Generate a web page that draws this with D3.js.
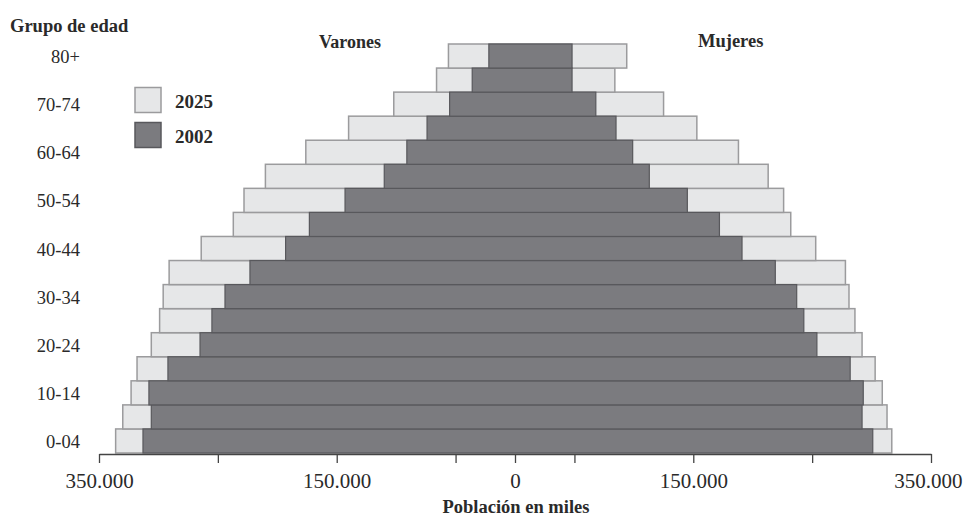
<!DOCTYPE html>
<html>
<head>
<meta charset="utf-8">
<script src="https://cdn.jsdelivr.net/npm/d3@7"></script>
<style>
  html, body { margin: 0; padding: 0; background: #fff; }
  svg { display: block; }
  text { font-family: "Liberation Serif", "DejaVu Serif", "Times New Roman", serif; fill: #2a2a2a; }
</style>
</head>
<body>
<svg id="chart" width="964" height="518"></svg>
<script>
// Age groups, bottom to top
const ages = ["0-04","5-09","10-14","15-19","20-24","25-29","30-34","35-39","40-44",
              "45-49","50-54","55-59","60-64","65-69","70-74","75-79","80+"];
const ageLabels = ["0-04","10-14","20-24","30-34","40-44","50-54","60-64","70-74","80+"];
// Population in thousands
const male2025   = [336, 330, 323, 318, 306, 299, 296, 291, 264, 237, 228, 210, 176, 140, 102, 66, 56];
const female2025 = [317, 313, 309, 303, 292, 286, 281, 278, 253, 232, 226, 213, 188, 153, 125, 84, 94];
const male2002   = [313, 306, 308, 292, 265, 255, 244, 223, 193, 173, 143, 110, 91, 74, 55, 36, 22];
const female2002 = [301, 292, 293, 282, 254, 243, 237, 219, 191, 172, 145, 113, 99, 85, 68, 48, 48];
const tickValues = [-350, -250, -150, -50, 0, 50, 150, 250, 350];
const tickLabels = {"-350": "350.000", "-150": "150.000", "0": "0", "150": "150.000", "350": "350.000"};
const years = ["2025", "2002"];

const LIGHT = "#e6e7e8", LIGHT_STROKE = "#9b9b9d";
const DARK = "#7b7b7f", DARK_STROKE = "#58585c";

const svg = d3.select("#chart");
const x = d3.scaleLinear().domain([-350, 350]).range([99, 931]);
const y = d3.scaleBand().domain(ages).range([453, 44]).padding(0);

const rows2025 = ages.map((a, i) => ({age: a, m: male2025[i], f: female2025[i]}));
const rows2002 = ages.map((a, i) => ({age: a, m: male2002[i], f: female2002[i]}));

svg.append("g").selectAll("rect").data(rows2025).join("rect")
  .attr("x", d => x(-d.m)).attr("width", d => x(d.f) - x(-d.m))
  .attr("y", d => y(d.age)).attr("height", y.bandwidth())
  .attr("fill", LIGHT).attr("stroke", LIGHT_STROKE).attr("stroke-width", 1.5);

svg.append("g").selectAll("rect").data(rows2002).join("rect")
  .attr("x", d => x(-d.m)).attr("width", d => x(d.f) - x(-d.m))
  .attr("y", d => y(d.age)).attr("height", y.bandwidth())
  .attr("fill", DARK).attr("stroke", DARK_STROKE).attr("stroke-width", 1.2);

// X axis
const axis = d3.axisBottom(x).tickValues(tickValues).tickSize(9).tickSizeOuter(0)
  .tickFormat(d => tickLabels[String(d)] || "");
const gx = svg.append("g").attr("transform", "translate(0,454)").call(axis);
gx.select(".domain").attr("stroke", "#444").attr("stroke-width", 1.3);
gx.selectAll(".tick line").attr("stroke", "#444").attr("stroke-width", 1.3);
gx.selectAll(".tick text").attr("y", 34).attr("dy", 0)
  .style("font-family", '"Liberation Serif", "DejaVu Serif", serif')
  .style("font-size", "21px").attr("fill", "#2a2a2a");
// keep the rightmost label inside the page
gx.selectAll(".tick").filter(d => d === 350).select("text")
  .attr("text-anchor", "end").attr("x", 962 - x(350));

// Y labels
svg.append("g").selectAll("text").data(ageLabels).join("text")
  .attr("x", 80).attr("y", d => y(d) + y.bandwidth() / 2 + 7)
  .attr("text-anchor", "end").style("font-size", "18.5px").text(d => d);

// Titles
svg.append("text").attr("x", 10).attr("y", 32).style("font-size", "18.5px")
  .style("font-weight", "bold").text("Grupo de edad");
svg.append("text").attr("x", 319).attr("y", 48).style("font-size", "18px")
  .style("font-weight", "bold").text("Varones");
svg.append("text").attr("x", 698).attr("y", 47).style("font-size", "18.5px")
  .style("font-weight", "bold").text("Mujeres");
svg.append("text").attr("x", 516).attr("y", 513).attr("text-anchor", "middle")
  .style("font-size", "18.5px").style("font-weight", "bold").text("Población en miles");

// Legend
const leg = svg.append("g").selectAll("g").data(years).join("g")
  .attr("transform", (d, i) => `translate(135,${87.5 + i * 35})`);
leg.append("rect").attr("width", 26).attr("height", 25)
  .attr("fill", d => d === "2025" ? LIGHT : DARK)
  .attr("stroke", d => d === "2025" ? LIGHT_STROKE : DARK_STROKE).attr("stroke-width", 1.5);
leg.append("text").attr("x", 40).attr("y", 20).style("font-size", "19px")
  .style("font-weight", "bold").text(d => d);
</script>
</body>
</html>
